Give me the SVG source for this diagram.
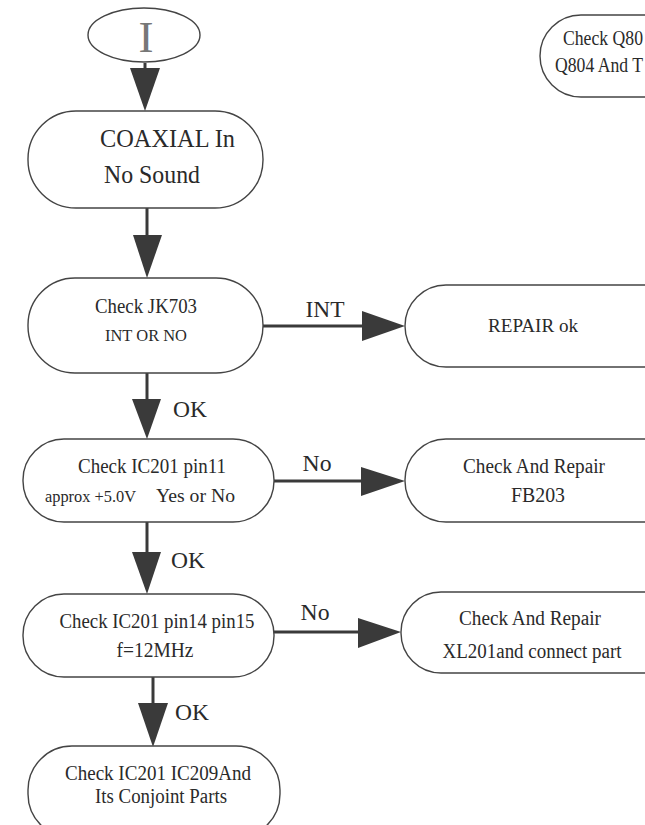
<svg xmlns="http://www.w3.org/2000/svg" width="645" height="825" viewBox="0 0 645 825">
<style>
.box{fill:#fff;stroke:#444;stroke-width:1.4}
.ln{stroke:#3a3a3a;stroke-width:3;fill:none}
.ah{fill:#3a3a3a}
text{font-family:"Liberation Serif","Times New Roman",serif;fill:#2a2a2a}
.c{text-anchor:middle}
</style>
<rect width="645" height="825" fill="#fff"/>
<g id="connectors">
<line class="ln" x1="145" y1="63" x2="145" y2="70"/><polygon class="ah" points="130,68 160,68 145,111"/>
<line class="ln" x1="147" y1="208" x2="147" y2="237"/><polygon class="ah" points="133,235 162,235 147,278"/>
<line class="ln" x1="263" y1="326" x2="364" y2="326"/><polygon class="ah" points="362,311 362,341 405,326"/>
<text x="325" y="317" class="c" font-size="24" textLength="39" lengthAdjust="spacingAndGlyphs">INT</text>
<line class="ln" x1="147" y1="373" x2="147" y2="401"/><polygon class="ah" points="132,399 161,399 147,439"/>
<text x="173" y="417" font-size="24" textLength="34" lengthAdjust="spacingAndGlyphs">OK</text>
<line class="ln" x1="274" y1="481" x2="363" y2="481"/><polygon class="ah" points="361,467 361,496 405,481"/>
<text x="317" y="471" class="c" font-size="24" textLength="29" lengthAdjust="spacingAndGlyphs">No</text>
<line class="ln" x1="147" y1="522" x2="147" y2="554"/><polygon class="ah" points="132,552 161,552 147,594"/>
<text x="171" y="568" font-size="24" textLength="34" lengthAdjust="spacingAndGlyphs">OK</text>
<line class="ln" x1="270" y1="632" x2="360" y2="632"/><polygon class="ah" points="358,618 358,648 401,632"/>
<text x="315" y="620" class="c" font-size="24" textLength="29" lengthAdjust="spacingAndGlyphs">No</text>
<line class="ln" x1="153" y1="677" x2="153" y2="705"/><polygon class="ah" points="138,703 168,703 153,747"/>
<text x="175" y="720" font-size="24" textLength="34" lengthAdjust="spacingAndGlyphs">OK</text>
</g>
<g id="start">
<ellipse class="box" cx="144" cy="35" rx="56" ry="27" stroke-width="2.2"/>
<text x="146" y="52" class="c" font-size="45" style="fill:#777">I</text>
</g>
<g id="coaxial">
<rect class="box" x="28" y="111" width="235" height="97" rx="48"/>
<text x="100" y="147" font-size="26" textLength="135" lengthAdjust="spacingAndGlyphs">COAXIAL In</text>
<text x="104" y="183" font-size="26" textLength="96" lengthAdjust="spacingAndGlyphs">No Sound</text>
</g>
<g id="jk703">
<rect class="box" x="28" y="278" width="235" height="95" rx="47"/>
<text x="146" y="313" class="c" font-size="20" textLength="102" lengthAdjust="spacingAndGlyphs">Check JK703</text>
<text x="146" y="341" class="c" font-size="16.5" textLength="82" lengthAdjust="spacingAndGlyphs">INT OR NO</text>
</g>
<g id="repair-ok">
<rect class="box" x="405" y="285" width="300" height="82" rx="41"/>
<text x="533" y="332" class="c" font-size="19" textLength="90" lengthAdjust="spacingAndGlyphs">REPAIR ok</text>
</g>
<g id="pin11">
<rect class="box" x="23" y="439" width="251" height="83" rx="41"/>
<text x="152" y="473" class="c" font-size="20.5" textLength="148" lengthAdjust="spacingAndGlyphs">Check IC201 pin11</text>
<text x="45" y="502" font-size="17" textLength="91" lengthAdjust="spacingAndGlyphs">approx +5.0V</text>
<text x="156" y="502" font-size="19.5" textLength="79" lengthAdjust="spacingAndGlyphs">Yes or No</text>
</g>
<g id="fb203">
<rect class="box" x="405" y="439" width="300" height="83" rx="41"/>
<text x="534" y="473" class="c" font-size="20.5" textLength="142" lengthAdjust="spacingAndGlyphs">Check And Repair</text>
<text x="538" y="502" class="c" font-size="20.5" textLength="54" lengthAdjust="spacingAndGlyphs">FB203</text>
</g>
<g id="pin14">
<rect class="box" x="23" y="594" width="251" height="83" rx="41"/>
<text x="157" y="628" class="c" font-size="20.5" textLength="195" lengthAdjust="spacingAndGlyphs">Check IC201 pin14 pin15</text>
<text x="155" y="657" class="c" font-size="20.5" textLength="77" lengthAdjust="spacingAndGlyphs">f=12MHz</text>
</g>
<g id="xl201">
<rect class="box" x="401" y="592" width="300" height="81" rx="40"/>
<text x="530" y="625" class="c" font-size="20.5" textLength="142" lengthAdjust="spacingAndGlyphs">Check And Repair</text>
<text x="532" y="658" class="c" font-size="20.5" textLength="179" lengthAdjust="spacingAndGlyphs">XL201and connect part</text>
</g>
<g id="ic209">
<rect class="box" x="28" y="746" width="252" height="92" rx="44"/>
<text x="158" y="780" class="c" font-size="20.5" textLength="186" lengthAdjust="spacingAndGlyphs">Check IC201 IC209And</text>
<text x="161" y="803" class="c" font-size="20.5" textLength="132" lengthAdjust="spacingAndGlyphs">Its Conjoint Parts</text>
</g>
<g id="q804">
<rect class="box" x="540" y="15" width="200" height="82" rx="41"/>
<text x="563" y="45" font-size="20" textLength="80" lengthAdjust="spacingAndGlyphs">Check Q80</text>
<text x="555" y="72" font-size="20" textLength="88" lengthAdjust="spacingAndGlyphs">Q804 And T</text>
</g>
</svg>
